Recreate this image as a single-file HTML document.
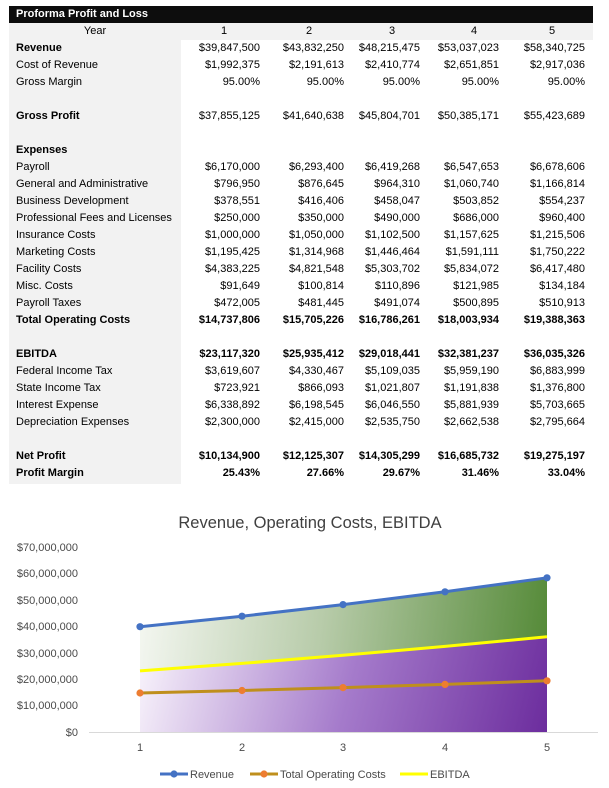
<!DOCTYPE html>
<html>
<head>
<meta charset="utf-8">
<style>
  html,body{margin:0;padding:0;background:#fff;}
  body{width:609px;height:788px;position:relative;overflow:hidden;font-family:"Liberation Sans",Arial,sans-serif;font-size:11px;color:#000;}
  .bar{position:absolute;left:9px;top:6px;width:584px;height:17px;background:#0d0d0d;}
  .bar span{position:absolute;left:7px;top:0;line-height:17px;color:#fff;font-weight:bold;}
  .yr{position:absolute;left:9px;top:23px;width:584px;height:17px;background:#f2f2f2;}
  .lab{position:absolute;left:9px;top:40px;width:172px;height:444px;background:#f2f2f2;}
  .t{position:absolute;line-height:17px;white-space:nowrap;}
  .l{left:16px;}
  .b{font-weight:bold;}
  .v{text-align:right;width:100px;}
  .c{text-align:center;width:40px;}
  svg{position:absolute;left:0;top:0;}
</style>
</head>
<body>
<div class="bar"><span>Proforma Profit and Loss</span></div>
<div class="yr"></div>
<div class="lab"></div>

<div class="t c" style="left:75px;top:23px;">Year</div>
<div class="t c" style="left:204px;top:23px;">1</div>
<div class="t c" style="left:289px;top:23px;">2</div>
<div class="t c" style="left:372px;top:23px;">3</div>
<div class="t c" style="left:454px;top:23px;">4</div>
<div class="t c" style="left:532px;top:23px;">5</div>

<div class="t l b" style="top:40px;">Revenue</div>
<div class="t v" style="left:160px;top:40px;">$39,847,500</div>
<div class="t v" style="left:244px;top:40px;">$43,832,250</div>
<div class="t v" style="left:320px;top:40px;">$48,215,475</div>
<div class="t v" style="left:399px;top:40px;">$53,037,023</div>
<div class="t v" style="left:485px;top:40px;">$58,340,725</div>

<div class="t l" style="top:57px;">Cost of Revenue</div>
<div class="t v" style="left:160px;top:57px;">$1,992,375</div>
<div class="t v" style="left:244px;top:57px;">$2,191,613</div>
<div class="t v" style="left:320px;top:57px;">$2,410,774</div>
<div class="t v" style="left:399px;top:57px;">$2,651,851</div>
<div class="t v" style="left:485px;top:57px;">$2,917,036</div>

<div class="t l" style="top:74px;">Gross Margin</div>
<div class="t v" style="left:160px;top:74px;">95.00%</div>
<div class="t v" style="left:244px;top:74px;">95.00%</div>
<div class="t v" style="left:320px;top:74px;">95.00%</div>
<div class="t v" style="left:399px;top:74px;">95.00%</div>
<div class="t v" style="left:485px;top:74px;">95.00%</div>

<div class="t l b" style="top:108px;">Gross Profit</div>
<div class="t v" style="left:160px;top:108px;">$37,855,125</div>
<div class="t v" style="left:244px;top:108px;">$41,640,638</div>
<div class="t v" style="left:320px;top:108px;">$45,804,701</div>
<div class="t v" style="left:399px;top:108px;">$50,385,171</div>
<div class="t v" style="left:485px;top:108px;">$55,423,689</div>

<div class="t l b" style="top:142px;">Expenses</div>

<div class="t l" style="top:159px;">Payroll</div>
<div class="t v" style="left:160px;top:159px;">$6,170,000</div>
<div class="t v" style="left:244px;top:159px;">$6,293,400</div>
<div class="t v" style="left:320px;top:159px;">$6,419,268</div>
<div class="t v" style="left:399px;top:159px;">$6,547,653</div>
<div class="t v" style="left:485px;top:159px;">$6,678,606</div>

<div class="t l" style="top:176px;">General and Administrative</div>
<div class="t v" style="left:160px;top:176px;">$796,950</div>
<div class="t v" style="left:244px;top:176px;">$876,645</div>
<div class="t v" style="left:320px;top:176px;">$964,310</div>
<div class="t v" style="left:399px;top:176px;">$1,060,740</div>
<div class="t v" style="left:485px;top:176px;">$1,166,814</div>

<div class="t l" style="top:193px;">Business Development</div>
<div class="t v" style="left:160px;top:193px;">$378,551</div>
<div class="t v" style="left:244px;top:193px;">$416,406</div>
<div class="t v" style="left:320px;top:193px;">$458,047</div>
<div class="t v" style="left:399px;top:193px;">$503,852</div>
<div class="t v" style="left:485px;top:193px;">$554,237</div>

<div class="t l" style="top:210px;">Professional Fees and Licenses</div>
<div class="t v" style="left:160px;top:210px;">$250,000</div>
<div class="t v" style="left:244px;top:210px;">$350,000</div>
<div class="t v" style="left:320px;top:210px;">$490,000</div>
<div class="t v" style="left:399px;top:210px;">$686,000</div>
<div class="t v" style="left:485px;top:210px;">$960,400</div>

<div class="t l" style="top:227px;">Insurance Costs</div>
<div class="t v" style="left:160px;top:227px;">$1,000,000</div>
<div class="t v" style="left:244px;top:227px;">$1,050,000</div>
<div class="t v" style="left:320px;top:227px;">$1,102,500</div>
<div class="t v" style="left:399px;top:227px;">$1,157,625</div>
<div class="t v" style="left:485px;top:227px;">$1,215,506</div>

<div class="t l" style="top:244px;">Marketing Costs</div>
<div class="t v" style="left:160px;top:244px;">$1,195,425</div>
<div class="t v" style="left:244px;top:244px;">$1,314,968</div>
<div class="t v" style="left:320px;top:244px;">$1,446,464</div>
<div class="t v" style="left:399px;top:244px;">$1,591,111</div>
<div class="t v" style="left:485px;top:244px;">$1,750,222</div>

<div class="t l" style="top:261px;">Facility Costs</div>
<div class="t v" style="left:160px;top:261px;">$4,383,225</div>
<div class="t v" style="left:244px;top:261px;">$4,821,548</div>
<div class="t v" style="left:320px;top:261px;">$5,303,702</div>
<div class="t v" style="left:399px;top:261px;">$5,834,072</div>
<div class="t v" style="left:485px;top:261px;">$6,417,480</div>

<div class="t l" style="top:278px;">Misc. Costs</div>
<div class="t v" style="left:160px;top:278px;">$91,649</div>
<div class="t v" style="left:244px;top:278px;">$100,814</div>
<div class="t v" style="left:320px;top:278px;">$110,896</div>
<div class="t v" style="left:399px;top:278px;">$121,985</div>
<div class="t v" style="left:485px;top:278px;">$134,184</div>

<div class="t l" style="top:295px;">Payroll Taxes</div>
<div class="t v" style="left:160px;top:295px;">$472,005</div>
<div class="t v" style="left:244px;top:295px;">$481,445</div>
<div class="t v" style="left:320px;top:295px;">$491,074</div>
<div class="t v" style="left:399px;top:295px;">$500,895</div>
<div class="t v" style="left:485px;top:295px;">$510,913</div>

<div class="t l b" style="top:312px;">Total Operating Costs</div>
<div class="t v b" style="left:160px;top:312px;">$14,737,806</div>
<div class="t v b" style="left:244px;top:312px;">$15,705,226</div>
<div class="t v b" style="left:320px;top:312px;">$16,786,261</div>
<div class="t v b" style="left:399px;top:312px;">$18,003,934</div>
<div class="t v b" style="left:485px;top:312px;">$19,388,363</div>

<div class="t l b" style="top:346px;">EBITDA</div>
<div class="t v b" style="left:160px;top:346px;">$23,117,320</div>
<div class="t v b" style="left:244px;top:346px;">$25,935,412</div>
<div class="t v b" style="left:320px;top:346px;">$29,018,441</div>
<div class="t v b" style="left:399px;top:346px;">$32,381,237</div>
<div class="t v b" style="left:485px;top:346px;">$36,035,326</div>

<div class="t l" style="top:363px;">Federal Income Tax</div>
<div class="t v" style="left:160px;top:363px;">$3,619,607</div>
<div class="t v" style="left:244px;top:363px;">$4,330,467</div>
<div class="t v" style="left:320px;top:363px;">$5,109,035</div>
<div class="t v" style="left:399px;top:363px;">$5,959,190</div>
<div class="t v" style="left:485px;top:363px;">$6,883,999</div>

<div class="t l" style="top:380px;">State Income Tax</div>
<div class="t v" style="left:160px;top:380px;">$723,921</div>
<div class="t v" style="left:244px;top:380px;">$866,093</div>
<div class="t v" style="left:320px;top:380px;">$1,021,807</div>
<div class="t v" style="left:399px;top:380px;">$1,191,838</div>
<div class="t v" style="left:485px;top:380px;">$1,376,800</div>

<div class="t l" style="top:397px;">Interest Expense</div>
<div class="t v" style="left:160px;top:397px;">$6,338,892</div>
<div class="t v" style="left:244px;top:397px;">$6,198,545</div>
<div class="t v" style="left:320px;top:397px;">$6,046,550</div>
<div class="t v" style="left:399px;top:397px;">$5,881,939</div>
<div class="t v" style="left:485px;top:397px;">$5,703,665</div>

<div class="t l" style="top:414px;">Depreciation Expenses</div>
<div class="t v" style="left:160px;top:414px;">$2,300,000</div>
<div class="t v" style="left:244px;top:414px;">$2,415,000</div>
<div class="t v" style="left:320px;top:414px;">$2,535,750</div>
<div class="t v" style="left:399px;top:414px;">$2,662,538</div>
<div class="t v" style="left:485px;top:414px;">$2,795,664</div>

<div class="t l b" style="top:448px;">Net Profit</div>
<div class="t v b" style="left:160px;top:448px;">$10,134,900</div>
<div class="t v b" style="left:244px;top:448px;">$12,125,307</div>
<div class="t v b" style="left:320px;top:448px;">$14,305,299</div>
<div class="t v b" style="left:399px;top:448px;">$16,685,732</div>
<div class="t v b" style="left:485px;top:448px;">$19,275,197</div>

<div class="t l b" style="top:465px;">Profit Margin</div>
<div class="t v b" style="left:160px;top:465px;">25.43%</div>
<div class="t v b" style="left:244px;top:465px;">27.66%</div>
<div class="t v b" style="left:320px;top:465px;">29.67%</div>
<div class="t v b" style="left:399px;top:465px;">31.46%</div>
<div class="t v b" style="left:485px;top:465px;">33.04%</div>

<svg width="609" height="788" viewBox="0 0 609 788" xmlns="http://www.w3.org/2000/svg" style="font-family:'Liberation Sans',Arial,sans-serif;">
  <defs>
    <linearGradient id="gg" gradientUnits="userSpaceOnUse" x1="140" y1="600" x2="547" y2="650">
      <stop offset="0" stop-color="#f4f7f1"/>
      <stop offset="0.45" stop-color="#b7cba9"/>
      <stop offset="1" stop-color="#558a38"/>
    </linearGradient>
    <linearGradient id="pg" gradientUnits="userSpaceOnUse" x1="140" y1="655" x2="547" y2="760">
      <stop offset="0" stop-color="#f8f3fb"/>
      <stop offset="0.5" stop-color="#a57bcb"/>
      <stop offset="1" stop-color="#6a2a9c"/>
    </linearGradient>
  </defs>
  <text x="310" y="528" text-anchor="middle" font-size="16.5" fill="#404040">Revenue, Operating Costs, EBITDA</text>

  <g font-size="11" fill="#4a4a4a" text-anchor="end">
    <text x="78" y="551">$70,000,000</text>
    <text x="78" y="577">$60,000,000</text>
    <text x="78" y="604">$50,000,000</text>
    <text x="78" y="630">$40,000,000</text>
    <text x="78" y="657">$30,000,000</text>
    <text x="78" y="683">$20,000,000</text>
    <text x="78" y="709">$10,000,000</text>
    <text x="78" y="736">$0</text>
  </g>

  <polygon points="140,626.7 242,616.2 343,604.6 445,591.8 547,577.8 547,732 140,732" fill="url(#gg)"/>
  <polygon points="140,670.9 242,663.4 343,655.3 445,646.4 547,636.8 547,732 140,732" fill="url(#pg)"/>

  <line x1="89" y1="732.5" x2="598" y2="732.5" stroke="#d9d9d9" stroke-width="1"/>

  <polyline points="140,670.9 242,663.4 343,655.3 445,646.4 547,636.8" fill="none" stroke="#ffff00" stroke-width="3" stroke-linejoin="round"/>
  <polyline points="140,693 242,690.5 343,687.6 445,684.4 547,680.8" fill="none" stroke="#bf8f1c" stroke-width="3" stroke-linejoin="round"/>
  <g fill="#ed7d31">
    <circle cx="140" cy="693" r="3.6"/>
    <circle cx="242" cy="690.5" r="3.6"/>
    <circle cx="343" cy="687.6" r="3.6"/>
    <circle cx="445" cy="684.4" r="3.6"/>
    <circle cx="547" cy="680.8" r="3.6"/>
  </g>
  <polyline points="140,626.7 242,616.2 343,604.6 445,591.8 547,577.8" fill="none" stroke="#4472c4" stroke-width="3" stroke-linejoin="round"/>
  <g fill="#4472c4">
    <circle cx="140" cy="626.7" r="3.6"/>
    <circle cx="242" cy="616.2" r="3.6"/>
    <circle cx="343" cy="604.6" r="3.6"/>
    <circle cx="445" cy="591.8" r="3.6"/>
    <circle cx="547" cy="577.8" r="3.6"/>
  </g>

  <g font-size="11" fill="#4a4a4a" text-anchor="middle">
    <text x="140" y="751">1</text>
    <text x="242" y="751">2</text>
    <text x="343" y="751">3</text>
    <text x="445" y="751">4</text>
    <text x="547" y="751">5</text>
  </g>

  <line x1="160" y1="774" x2="188" y2="774" stroke="#4472c4" stroke-width="3"/>
  <circle cx="174" cy="774" r="3.6" fill="#4472c4"/>
  <text x="190" y="778" font-size="11" fill="#4a4a4a">Revenue</text>
  <line x1="250" y1="774" x2="278" y2="774" stroke="#bf8f1c" stroke-width="3"/>
  <circle cx="264" cy="774" r="3.6" fill="#ed7d31"/>
  <text x="280" y="778" font-size="11" fill="#4a4a4a">Total Operating Costs</text>
  <line x1="400" y1="774" x2="428" y2="774" stroke="#ffff00" stroke-width="3"/>
  <text x="430" y="778" font-size="11" fill="#4a4a4a">EBITDA</text>
</svg>
</body>
</html>
